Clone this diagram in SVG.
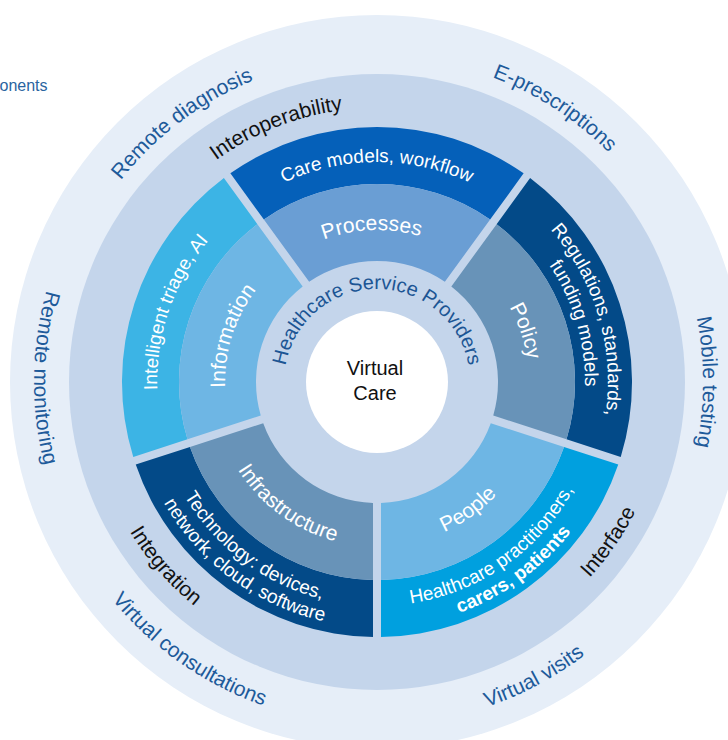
<svg xmlns="http://www.w3.org/2000/svg" width="728" height="740" viewBox="0 0 728 740">
<defs>
<style>
text { font-family: "Liberation Sans", Arial, sans-serif; }
.ol { font-size: 21px; fill: #1d5a9a; }
.rl { font-size: 21px; fill: #111111; }
.bl { font-size: 19px; fill: #ffffff; }
.bb { font-size: 19px; fill: #ffffff; font-weight: bold; }
.il { font-size: 21px; fill: #ffffff; }
.hsp { font-size: 20px; fill: #1c5594; }
.vc { font-size: 20px; fill: #111111; text-anchor: middle; }
.ring1 { fill: #e6eef8; }
.ring2 { fill: #c4d5eb; }
</style>
<path id="ob" d="M230.37,173.37 A255,255 0 0 1 523.63,173.37 L490.12,219.49 A198,198 0 0 0 263.88,219.49 Z"/>
<path id="ib" d="M263.88,219.49 A198,198 0 0 1 490.12,219.49 L444.85,281.81 A121,121 0 0 0 309.15,281.81 Z"/>
<path id="cw326" d="M51,382 A326,326 0 0 1 703,382"/>
<path id="ccw343" d="M34,382 A343,343 0 0 0 720,382"/>
<path id="cw274" d="M103,382 A274,274 0 0 1 651,382"/>
<path id="ccw289" d="M88,382 A289,289 0 0 0 666,382"/>
<path id="cw220" d="M157,382 A220,220 0 0 1 597,382"/>
<path id="cw231" d="M146,382 A231,231 0 0 1 608,382"/>
<path id="cw208" d="M169,382 A208,208 0 0 1 585,382"/>
<path id="ccw224" d="M153,382 A224,224 0 0 0 601,382"/>
<path id="ccw245" d="M132,382 A245,245 0 0 0 622,382"/>
<path id="cw152" d="M225,382 A152,152 0 0 1 529,382"/>
<path id="ccw164" d="M212.5,382 A164.5,164.5 0 0 0 541.5,382"/>
<path id="cw93" d="M284,382 A93,93 0 0 1 470,382"/>
</defs>

<rect x="0" y="0" width="728" height="740" fill="#ffffff"/>
<text x="-0.5" y="91" style="font-size:16px;fill:#2a64a0">onents</text>

<g id="outer-ring">
  <circle class="ring1" cx="377" cy="382" r="367"/>
  <text class="ol" transform="rotate(-37 377 382)"><textPath href="#cw326" startOffset="50%" text-anchor="middle">Remote diagnosis</textPath></text>
  <text class="ol" transform="rotate(33 377 382)"><textPath href="#cw326" startOffset="50%" text-anchor="middle">E-prescriptions</textPath></text>
  <text class="ol" transform="rotate(90 377 382)"><textPath href="#cw326" startOffset="50%" text-anchor="middle">Mobile testing</textPath></text>
  <text class="ol" transform="rotate(-28 377 382)"><textPath href="#ccw343" startOffset="50%" text-anchor="middle">Virtual visits</textPath></text>
  <text class="ol" transform="rotate(35 377 382)"><textPath href="#ccw343" startOffset="50%" text-anchor="middle">Virtual consultations</textPath></text>
  <text class="ol" transform="rotate(90.7 377 382)"><textPath href="#ccw343" startOffset="50%" text-anchor="middle">Remote monitoring</textPath></text>
</g>

<g id="middle-ring">
  <circle class="ring2" cx="377" cy="382" r="308"/>
  <text class="rl" transform="rotate(-21.6 377 382)"><textPath href="#cw274" startOffset="50%" text-anchor="middle">Interoperability</textPath></text>
  <text class="rl" transform="rotate(49 377 382)"><textPath href="#ccw289" startOffset="50%" text-anchor="middle">Integration</textPath></text>
  <text class="rl" transform="rotate(-55.4 377 382)"><textPath href="#ccw289" startOffset="50%" text-anchor="middle">Interface</textPath></text>
</g>

<g id="processes">
  <use href="#ob" fill="#0560b9"/>
  <use href="#ib" fill="#6a9ed4"/>
  <text class="bl"><textPath href="#cw220" startOffset="50%" text-anchor="middle">Care models, workflow</textPath></text>
  <text class="il" transform="rotate(-2 377 382)"><textPath href="#cw152" startOffset="50%" text-anchor="middle">Processes</textPath></text>
</g>

<g id="policy">
  <use href="#ob" fill="#034a88" transform="rotate(72 377 382)"/>
  <use href="#ib" fill="#6893b8" transform="rotate(72 377 382)"/>
  <text class="bl" transform="rotate(73.5 377 382)"><textPath href="#cw231" startOffset="50%" text-anchor="middle">Regulations, standards,</textPath></text>
  <text class="bl" transform="rotate(73.5 377 382)"><textPath href="#cw208" startOffset="50%" text-anchor="middle">funding models</textPath></text>
  <text class="il" transform="rotate(71 377 382)"><textPath href="#cw152" startOffset="50%" text-anchor="middle">Policy</textPath></text>
</g>

<g id="people">
  <use href="#ob" fill="#00a0df" transform="rotate(144 377 382)"/>
  <use href="#ib" fill="#6eb6e4" transform="rotate(144 377 382)"/>
  <text class="bl" transform="rotate(-35 377 382)"><textPath href="#ccw224" startOffset="50%" text-anchor="middle">Healthcare practitioners,</textPath></text>
  <text class="bb" transform="rotate(-36 377 382)"><textPath href="#ccw245" startOffset="50%" text-anchor="middle">carers, patients</textPath></text>
  <text class="il" transform="rotate(-35.5 377 382)"><textPath href="#ccw164" startOffset="50%" text-anchor="middle">People</textPath></text>
</g>

<g id="infrastructure">
  <use href="#ob" fill="#034a88" transform="rotate(216 377 382)"/>
  <use href="#ib" fill="#6893b8" transform="rotate(216 377 382)"/>
  <text class="bl" transform="rotate(36.8 377 382)"><textPath href="#ccw224" startOffset="50%" text-anchor="middle">Technology: devices,</textPath></text>
  <text class="bl" transform="rotate(36.5 377 382)"><textPath href="#ccw245" startOffset="50%" text-anchor="middle">network, cloud, software</textPath></text>
  <text class="il" transform="rotate(36.2 377 382)"><textPath href="#ccw164" startOffset="50%" text-anchor="middle">Infrastructure</textPath></text>
</g>

<g id="information">
  <use href="#ob" fill="#3cb4e5" transform="rotate(288 377 382)"/>
  <use href="#ib" fill="#6eb6e4" transform="rotate(288 377 382)"/>
  <text class="bl" transform="rotate(-71 377 382)"><textPath href="#cw220" startOffset="50%" text-anchor="middle">Intelligent triage, AI</textPath></text>
  <text class="il" transform="rotate(-72.4 377 382)"><textPath href="#cw152" startOffset="50%" text-anchor="middle">Information</textPath></text>
</g>

<g id="healthcare-service-providers">
  <text class="hsp"><textPath href="#cw93" startOffset="50%" text-anchor="middle">Healthcare Service Providers</textPath></text>
</g>

<g id="virtual-care">
  <circle cx="377" cy="382" r="71" fill="#ffffff"/>
  <text class="vc" x="375" y="375">Virtual</text>
  <text class="vc" x="375" y="400">Care</text>
</g>
</svg>
